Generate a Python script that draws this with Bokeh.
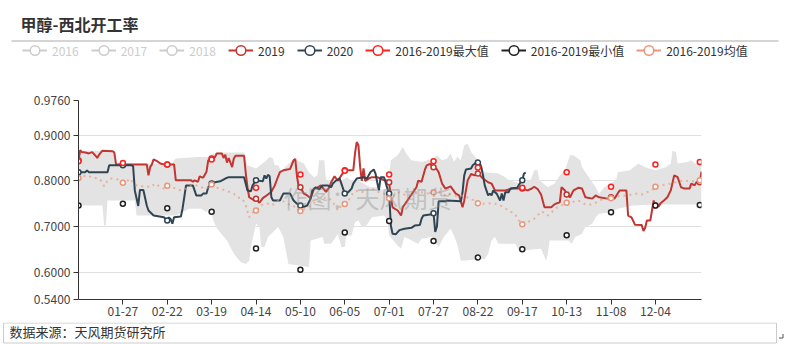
from bokeh.plotting import figure
from bokeh.layouts import column
from bokeh.models import (Range1d, FixedTicker, Legend, LegendItem, Label,
                          PrintfTickFormatter)
from bokeh.embed import file_html
from bokeh.resources import INLINE

FONT = "Noto Sans CJK SC"

title_text = "甲醇-西北开工率"
source_text = "数据来源：天风期货研究所"
watermark_text = "作图：天风期货"

# category index (day of 2020) -> label
tick_days = [26, 52, 78, 104, 130, 156, 182, 208, 234, 260, 286, 312, 338]
tick_labels = ["01-27", "02-22", "03-19", "04-14", "05-10", "06-05", "07-01",
               "07-27", "08-22", "09-17", "10-13", "11-08", "12-04"]
y_ticks = [0.54, 0.6, 0.7, 0.8, 0.9, 0.976]

# days where symbols are shown
mark_days = [0, 26, 52, 78, 104, 130, 156, 182, 208, 234, 260, 286, 312, 338, 364]
max_marks = [0.843, 0.839, 0.836, 0.847, 0.785, 0.814, 0.822, 0.814, 0.843, 0.829,
             0.785, 0.819, 0.787, 0.836, 0.841]
min_marks = [0.746, 0.750, 0.740, 0.732, 0.652, 0.605, 0.687, 0.712, 0.668, 0.632,
             0.650, 0.681, 0.731, 0.746, 0.747]

# (day index, value)
s2019 = [(0,0.845),(1,0.867),(2,0.863),(4,0.862),(6,0.86),(8,0.863),(10,0.855),(11,0.85),
         (12,0.857),(14,0.866),(20,0.865),(21,0.862),(22,0.836),(26,0.836),(40,0.836),(41,0.812),
         (42,0.83),(43,0.836),(44,0.847),(46,0.843),(48,0.838),(50,0.836),(52,0.836),(56,0.836),
         (57,0.801),(66,0.801),(67,0.798),(68,0.801),(70,0.798),(71,0.81),(72,0.808),(73,0.807),
         (75,0.82),(76,0.845),(78,0.849),(80,0.852),(81,0.86),(84,0.86),(85,0.85),(86,0.857),
         (87,0.84),(88,0.85),(90,0.83),(91,0.849),(92,0.855),(97,0.855),(98,0.816),(99,0.786),
         (100,0.764),(103,0.757),(104,0.761),(106,0.752),(108,0.762),(111,0.77),(113,0.776),
         (115,0.79),(117,0.81),(118,0.819),(120,0.823),(124,0.826),(126,0.845),(127,0.848),
         (128,0.81),(129,0.787),(130,0.786),(132,0.772),(134,0.768),(136,0.762),(138,0.783),
         (140,0.785),(142,0.79),(145,0.776),(147,0.786),(148,0.797),(150,0.81),(152,0.8),
         (154,0.812),(156,0.823),(161,0.823),(162,0.86),(163,0.885),(164,0.878),(165,0.83),
         (166,0.8),(167,0.827),(168,0.8),(170,0.805),(172,0.808),(175,0.808),(178,0.803),
         (181,0.8),(182,0.797),(183,0.764),(184,0.742),(187,0.735),(189,0.724),(190,0.742),
         (192,0.753),(194,0.764),(196,0.775),(198,0.786),(199,0.8),(201,0.798),(203,0.825),
         (204,0.834),(206,0.837),(208,0.83),(210,0.825),(211,0.819),(213,0.794),(215,0.783),
         (218,0.788),(221,0.772),(223,0.768),(225,0.742),(226,0.757),(228,0.801),(230,0.815),
         (232,0.812),(234,0.816),(237,0.805),(240,0.797),(242,0.794),(244,0.779),(248,0.779),
         (250,0.779),(254,0.783),(260,0.783),(263,0.779),(265,0.782),(267,0.787),(269,0.782),
         (271,0.77),(273,0.742),(277,0.742),(279,0.749),(282,0.753),(283,0.786),(285,0.779),
         (286,0.77),(288,0.764),(290,0.779),(293,0.785),(295,0.783),(297,0.764),(301,0.761),
         (303,0.768),(305,0.764),(310,0.761),(312,0.764),(314,0.761),(317,0.779),(321,0.779),
         (322,0.724),(324,0.72),(326,0.704),(330,0.703),(331,0.69),(332,0.697),(333,0.713),
         (335,0.713),(336,0.735),(337,0.757),(338,0.746),(340,0.744),(341,0.751),(343,0.757),
         (345,0.764),(347,0.779),(349,0.812),(351,0.808),(353,0.786),(355,0.783),(358,0.783),
         (359,0.794),(361,0.79),(362,0.797),(364,0.797),(365,0.82)]

s2020 = [(0,0.819),(4,0.819),(5,0.823),(6,0.819),(17,0.819),(18,0.834),(26,0.834),(31,0.834),
         (32,0.832),(33,0.779),(35,0.745),(36,0.78),(38,0.78),(40,0.746),(41,0.735),(44,0.724),
         (50,0.72),(52,0.713),(53,0.72),(54,0.716),(55,0.706),(56,0.72),(60,0.722),(61,0.74),
         (62,0.765),(63,0.79),(67,0.79),(69,0.768),(72,0.768),(73,0.772),(75,0.772),(76,0.786),
         (78,0.794),(80,0.797),(83,0.799),(86,0.805),(88,0.808),(97,0.808),(99,0.779),(101,0.777),
         (102,0.79),(104,0.801),(108,0.799),(109,0.812),(110,0.805),(111,0.813),(112,0.81),
         (113,0.764),(114,0.757),(118,0.757),(120,0.772),(124,0.772),(126,0.757),(128,0.75),
         (130,0.746),(132,0.743),(134,0.746),(136,0.761),(137,0.779),(139,0.786),(141,0.781),
         (143,0.79),(146,0.79),(148,0.786),(149,0.794),(151,0.801),(153,0.805),(154,0.794),
         (156,0.772),(158,0.775),(160,0.783),(161,0.794),(163,0.805),(167,0.808),(169,0.805),
         (171,0.819),(173,0.825),(174,0.816),(175,0.797),(176,0.779),(177,0.808),(179,0.808),
         (181,0.783),(182,0.772),(183,0.702),(184,0.684),(186,0.683),(188,0.692),(191,0.695),
         (195,0.697),(197,0.702),(200,0.703),(201,0.717),(202,0.724),(207,0.727),(208,0.729),
         (209,0.688),(210,0.7),(211,0.755),(215,0.755),(216,0.757),(224,0.755),(225,0.775),
         (226,0.812),(227,0.825),(230,0.827),(231,0.834),(233,0.84),(234,0.84),(235,0.84),
         (236,0.83),(237,0.812),(238,0.79),(240,0.768),(241,0.772),(242,0.768),(243,0.779),
         (244,0.775),(245,0.772),(247,0.757),(248,0.772),(249,0.757),(250,0.775),(252,0.775),
         (253,0.783),(257,0.785),(259,0.797),(260,0.801),(261,0.816),(262,0.818)]

mean_1619 = [(0,0.806),(2,0.812),(4,0.81),(6,0.811),(8,0.806),(10,0.806),(12,0.805),(14,0.797),
             (15,0.788),(17,0.801),(19,0.805),(21,0.805),(23,0.803),(26,0.796),(29,0.801),
             (30,0.805),(32,0.797),(34,0.79),(37,0.788),(40,0.788),(42,0.786),(45,0.794),
             (48,0.786),(50,0.783),(52,0.789),(55,0.786),(57,0.783),(60,0.779),(63,0.783),
             (66,0.79),(69,0.79),(72,0.786),(75,0.783),(78,0.792),(80,0.786),(83,0.783),
             (86,0.779),(89,0.775),(91,0.772),(93,0.764),(96,0.761),(98,0.746),(100,0.72),
             (101,0.728),(103,0.733),(104,0.735),(107,0.746),(109,0.75),(111,0.75),(113,0.746),
             (115,0.75),(117,0.757),(120,0.755),(122,0.752),(124,0.746),(126,0.745),(128,0.737),
             (130,0.734),(133,0.739),(136,0.746),(139,0.755),(142,0.757),(145,0.764),(147,0.761),
             (149,0.753),(152,0.735),(154,0.746),(156,0.749),(159,0.761),(161,0.775),(164,0.779),
             (167,0.775),(170,0.783),(172,0.783),(176,0.775),(179,0.772),(182,0.762),(185,0.768),
             (188,0.775),(192,0.768),(196,0.772),(202,0.775),(205,0.772),(208,0.775),(212,0.775),
             (215,0.768),(217,0.772),(221,0.767),(224,0.768),(227,0.766),(229,0.761),(232,0.757),
             (234,0.751),(237,0.75),(243,0.751),(246,0.748),(249,0.742),(252,0.735),(254,0.731),
             (256,0.726),(257,0.717),(260,0.705),(262,0.708),(264,0.711),(267,0.717),(269,0.724),
             (271,0.733),(273,0.73),(275,0.724),(277,0.73),(279,0.739),(281,0.742),(283,0.746),
             (286,0.752),(289,0.753),(292,0.757),(294,0.755),(297,0.748),(300,0.748),(303,0.752),
             (305,0.757),(308,0.761),(312,0.762),(315,0.766),(318,0.768),(321,0.767),(324,0.77),
             (327,0.772),(330,0.77),(333,0.775),(336,0.779),(338,0.787),(341,0.79),(344,0.792),
             (347,0.794),(349,0.796),(352,0.799),(355,0.801),(358,0.799),(361,0.799),(364,0.801),
             (365,0.801)]

band_upper = [(0,0.866),(21,0.866),(22,0.838),(55,0.838),(56,0.845),(57,0.849),(70,0.852),
              (76,0.852),(77,0.856),(81,0.862),(97,0.862),(99,0.834),(104,0.827),(109,0.841),
              (112,0.852),(114,0.849),(115,0.834),(117,0.834),(119,0.819),(121,0.83),(126,0.848),
              (132,0.838),(135,0.819),(138,0.808),(140,0.812),(141,0.845),(144,0.845),(145,0.801),
              (148,0.797),(154,0.8),(157,0.808),(160,0.8),(164,0.8),(167,0.794),(171,0.786),
              (175,0.786),(179,0.779),(181,0.785),(183,0.845),(187,0.856),(190,0.874),(192,0.86),
              (195,0.845),(201,0.841),(208,0.849),(210,0.856),(213,0.845),(216,0.849),(218,0.86),
              (220,0.842),(222,0.853),(224,0.845),(226,0.878),(228,0.882),(230,0.863),(234,0.845),
              (236,0.827),(238,0.819),(246,0.816),(250,0.808),(252,0.801),(259,0.794),(265,0.801),
              (267,0.823),(269,0.823),(270,0.801),(275,0.786),(279,0.794),(282,0.812),(285,0.823),
              (288,0.856),(290,0.856),(294,0.845),(295,0.83),(299,0.808),(303,0.786),(305,0.772),
              (308,0.786),(315,0.801),(316,0.819),(323,0.823),(328,0.838),(332,0.83),(338,0.823),
              (344,0.83),(347,0.838),(348,0.866),(350,0.863),(351,0.838),(357,0.841),(359,0.845),
              (361,0.838),(365,0.838)]

band_lower = [(0,0.746),(14,0.746),(15,0.702),(16,0.702),(17,0.757),(33,0.757),(34,0.724),
              (57,0.724),(61,0.731),(65,0.739),(72,0.739),(75,0.731),(77,0.742),(79,0.713),
              (81,0.696),(87,0.669),(91,0.64),(95,0.622),(98,0.618),(100,0.625),(101,0.655),
              (104,0.706),(106,0.699),(107,0.655),(109,0.655),(111,0.677),(117,0.699),(120,0.677),
              (123,0.618),(135,0.611),(136,0.669),(143,0.677),(144,0.662),(148,0.662),(152,0.684),
              (154,0.655),(156,0.655),(157,0.68),(160,0.68),(162,0.71),(164,0.713),(166,0.699),
              (168,0.699),(172,0.72),(179,0.724),(181,0.713),(182,0.68),(187,0.658),(189,0.651),
              (191,0.677),(199,0.662),(201,0.673),(207,0.677),(211,0.655),(214,0.677),(218,0.695),
              (220,0.68),(222,0.66),(224,0.625),(238,0.629),(240,0.64),(242,0.669),(244,0.677),
              (246,0.662),(256,0.662),(258,0.647),(271,0.651),(274,0.625),(275,0.64),(276,0.669),
              (287,0.669),(289,0.662),(291,0.677),(295,0.684),(297,0.699),(301,0.706),(303,0.72),
              (305,0.728),(312,0.731),(316,0.739),(320,0.742),(325,0.746),(338,0.748),(365,0.748)]

C2019 = "#c23531"
C2020 = "#2f4554"
CMAX = "#ff2020"
CMIN = "#222222"
CMEAN = "#e9967a"
CGREY = "#cccccc"


def split(pairs):
    return [a for a, _ in pairs], [b for _, b in pairs]


def marks(pairs):
    sel = [(a, b) for a, b in pairs if a in mark_days]
    return split(sel)


W = 789
TOP_H = 90          # page rows 0..90   : title + legend
MAIN_H = 232        # page rows 90..322 : chart (frame 100..299)
FOOT_H = 22         # page rows 322..344: source note
FL, FR = 78, 701


def bare(height):
    f = figure(width=W, height=height, output_backend="svg", toolbar_location=None,
               x_range=Range1d(0, W), y_range=Range1d(height, 0),
               x_axis_location=None, y_axis_location=None,
               min_border=0, min_border_left=0, min_border_right=0,
               min_border_top=0, min_border_bottom=0, frame_align=False)
    f.outline_line_color = None
    f.xgrid.visible = False
    f.ygrid.visible = False
    f.background_fill_color = "white"
    f.border_fill_color = "white"
    return f


# ---------------- header: title + legends ----------------
top = bare(TOP_H)
top.add_layout(Label(x=20, y=23, text=title_text, text_font=FONT, text_font_size="16px",
                     text_font_style="bold", text_color="#333333",
                     text_baseline="middle"))
top.segment(x0=[11], y0=[40.5], x1=[778], y1=[40.5], line_color="#aaaaaa", line_width=1)


def icon(f, color):
    # legend-only renderers; their single point lies outside the view
    ln = f.line([-500, -400], [-500, -500], line_color=color, line_width=2)
    sc = f.scatter([-500], [-500], marker="circle", size=6, line_color=color,
                   fill_color="white", line_width=1.5)
    return [ln, sc]


grey_items = [LegendItem(label=lab, renderers=icon(top, CGREY))
              for lab in ["2016", "2017", "2018"]]
main_items = [
    LegendItem(label="2019", renderers=icon(top, C2019)),
    LegendItem(label="2020", renderers=icon(top, C2020)),
    LegendItem(label="2016-2019最大值", renderers=icon(top, CMAX)),
    LegendItem(label="2016-2019最小值", renderers=icon(top, CMIN)),
    LegendItem(label="2016-2019均值", renderers=icon(top, CMEAN)),
]


def make_legend(items, x0, color):
    lg = Legend(items=items, orientation="horizontal",
                location=(x0, TOP_H - 62),
                border_line_color=None, background_fill_alpha=0,
                padding=0, margin=0, spacing=12,
                glyph_width=25, glyph_height=24, label_height=24,
                label_standoff=5, label_text_font=FONT,
                label_text_font_size="12px", label_text_color=color)
    top.add_layout(lg)


make_legend(grey_items, 22, "#cccccc")
make_legend(main_items, 228, "#333333")

# ---------------- main chart ----------------
p = figure(width=W, height=MAIN_H, output_backend="svg", toolbar_location=None,
           x_range=Range1d(0, 365), y_range=Range1d(0.54, 0.976),
           min_border_left=FL, min_border_right=W - FR,
           min_border_top=10, min_border_bottom=23, frame_align=False)
p.outline_line_color = None
p.background_fill_color = "white"
p.border_fill_color = "white"

ux, uy = split(band_upper)
lx, ly = split(band_lower)
p.patch(ux + lx[::-1], uy + ly[::-1], fill_color="#e3e3e3", line_color=None)

x19, y19 = split(s2019)
p.line(x19, y19, line_color=C2019, line_width=2)
mx, my = marks(s2019)
p.scatter(mx, my, marker="circle", size=5, line_color=C2019,
          fill_color="white", line_width=1.5)

x20, y20 = split(s2020)
p.line(x20, y20, line_color=C2020, line_width=2)
mx, my = marks(s2020)
p.scatter(mx, my, marker="circle", size=5, line_color=C2020,
          fill_color="white", line_width=1.5)

p.scatter(mark_days, max_marks, marker="circle", size=5, line_color=CMAX,
          fill_color="white", line_width=1.5)
p.scatter(mark_days, min_marks, marker="circle", size=5, line_color=CMIN,
          fill_color="white", line_width=1.5)

xm, ym = split(mean_1619)
p.line(xm, ym, line_color=CMEAN, line_width=2, line_alpha=0.65, line_dash="2 4")
mx, my = marks(mean_1619)
p.scatter(mx, my, marker="circle", size=5, line_color=CMEAN,
          fill_color="white", line_width=1.5)

p.xaxis.ticker = FixedTicker(ticks=tick_days)
p.xaxis.major_label_overrides = {d: l for d, l in zip(tick_days, tick_labels)}
p.yaxis.ticker = FixedTicker(ticks=y_ticks)
p.yaxis.formatter = PrintfTickFormatter(format="%.4f")
for ax in (p.xaxis, p.yaxis):
    ax.axis_line_color = "#333333"
    ax.axis_line_width = 1
    ax.major_tick_line_color = "#333333"
    ax.major_tick_out = 5
    ax.major_tick_in = 0
    ax.minor_tick_line_color = None
    ax.major_label_text_font = FONT
    ax.major_label_text_font_size = "12px"
    ax.major_label_text_color = "#444444"
p.yaxis.major_label_standoff = 3
p.xaxis.major_label_standoff = 2
p.xgrid.visible = False
p.ygrid.grid_line_color = "#e0e0e0"
p.ygrid.grid_line_width = 1

p.add_layout(Label(x=283 - FL, y=299 - 187 - 10, x_units="screen", y_units="screen",
                   text=watermark_text, text_font=FONT, text_font_size="24px",
                   text_color="#888888", text_alpha=0.4, text_baseline="middle"))

# ---------------- footer ----------------
foot = bare(FOOT_H)
foot.quad(left=[3], right=[776], top=[0.5], bottom=[20.5], fill_color=None,
          line_color="#cccccc", line_width=1)
foot.add_layout(Label(x=9, y=9, text=source_text, text_font=FONT, text_font_size="13px",
                      text_color="#333333", text_baseline="middle"))
# small resize handle at the lower right corner of the note box
foot.segment(x0=[778.5, 782.5], y0=[15.5, 11.5], x1=[782.5, 782.5], y1=[15.5, 15.5],
             line_color="#555555", line_width=1)

layout = column(top, p, foot, spacing=0)
open("out.html", "w").write(file_html(layout, INLINE))
